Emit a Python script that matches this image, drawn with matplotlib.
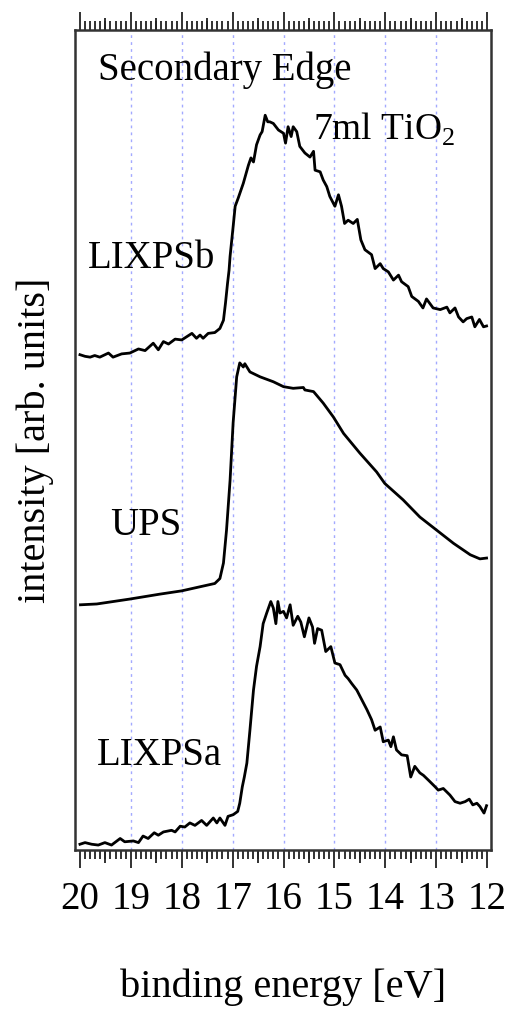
import numpy as np
import matplotlib
matplotlib.use("Agg")
import matplotlib.pyplot as plt
from matplotlib.ticker import MultipleLocator

plt.rcParams['font.family'] = ['Liberation Serif', 'DejaVu Serif']
plt.rcParams['mathtext.fontset'] = 'custom'
plt.rcParams['mathtext.rm'] = 'Liberation Serif'

# LIXPS (b) spectrum: binding energy [eV] vs. intensity [arb. units]
e_lixps_b = [20.00, 19.90, 19.80, 19.71, 19.61, 19.44, 19.35, 19.18, 19.02, 18.85,
             18.72, 18.56, 18.46, 18.36, 18.26, 18.13, 18.00, 17.90, 17.80, 17.71,
             17.64, 17.58, 17.48, 17.35, 17.25, 17.18, 17.14, 17.10, 17.07, 17.05,
             16.99, 16.95, 16.89, 16.79, 16.69, 16.64, 16.59, 16.53, 16.46, 16.42,
             16.36, 16.31, 16.27, 16.20, 16.10, 16.00, 15.96, 15.91, 15.85, 15.81,
             15.74, 15.68, 15.58, 15.48, 15.41, 15.38, 15.28, 15.22, 15.15, 15.09,
             14.99, 14.92, 14.86, 14.80, 14.73, 14.63, 14.55, 14.48, 14.40, 14.27,
             14.20, 14.10, 14.04, 13.94, 13.84, 13.74, 13.68, 13.55, 13.48, 13.35,
             13.26, 13.19, 13.06, 12.92, 12.79, 12.73, 12.63, 12.56, 12.47, 12.40,
             12.30, 12.24, 12.15, 12.07, 12.01]
i_lixps_b = [60.4, 60.2, 60.1, 60.3, 60.1, 60.6, 60.1, 60.5, 60.6, 61.1,
             60.9, 61.8, 61.0, 62.0, 61.7, 62.3, 62.2, 62.6, 63.0, 62.4,
             62.8, 62.4, 63.0, 63.1, 63.6, 64.6, 66.7, 69.1, 70.7, 72.4,
             76.0, 78.5, 79.5, 81.3, 83.5, 84.4, 83.9, 86.0, 87.2, 87.6,
             89.6, 88.8, 88.8, 88.6, 87.8, 87.4, 86.2, 88.2, 87.0, 88.2,
             87.6, 85.8, 85.0, 84.5, 85.2, 82.9, 82.7, 81.7, 80.9, 79.7,
             78.5, 79.9, 78.5, 76.4, 76.8, 76.4, 76.9, 74.4, 73.2, 72.6,
             70.9, 71.5, 70.9, 70.5, 69.5, 70.1, 69.3, 68.7, 67.5, 66.9,
             66.1, 67.2, 66.1, 65.9, 66.2, 65.5, 66.1, 65.0, 64.4, 64.8,
             65.0, 63.8, 64.7, 63.8, 63.9]

# UPS spectrum
e_ups = [19.99, 19.67, 19.02, 18.43, 18.00, 17.64, 17.35, 17.25, 17.18, 17.12,
         17.05, 16.99, 16.92, 16.86, 16.79, 16.76, 16.66, 16.46, 16.20, 16.00,
         15.81, 15.61, 15.58, 15.41, 15.22, 15.02, 14.82, 14.50, 14.17, 14.01,
         13.65, 13.32, 12.99, 12.66, 12.33, 12.14, 12.01]
i_ups = [29.9, 30.0, 30.6, 31.2, 31.6, 32.1, 32.5, 33.1, 35.0, 39.0,
         45.1, 52.1, 57.7, 59.4, 58.9, 59.3, 58.3, 57.7, 57.1, 56.5,
         56.3, 56.4, 56.1, 55.9, 54.5, 52.8, 50.8, 48.4, 46.1, 44.7,
         42.7, 40.6, 39.0, 37.4, 36.0, 35.5, 35.6]

# LIXPS (a) spectrum
e_lixps_a = [20.00, 19.90, 19.77, 19.64, 19.51, 19.38, 19.21, 19.12, 18.95, 18.85,
             18.76, 18.66, 18.54, 18.46, 18.36, 18.20, 18.13, 18.03, 17.94, 17.84,
             17.74, 17.61, 17.51, 17.38, 17.31, 17.25, 17.15, 17.09, 16.99, 16.90,
             16.86, 16.81, 16.77, 16.72, 16.66, 16.59, 16.53, 16.46, 16.40, 16.33,
             16.25, 16.20, 16.15, 16.11, 16.07, 16.00, 15.94, 15.87, 15.81, 15.72,
             15.66, 15.59, 15.50, 15.43, 15.39, 15.33, 15.25, 15.17, 15.07, 14.99,
             14.89, 14.79, 14.73, 14.66, 14.56, 14.46, 14.36, 14.27, 14.20, 14.10,
             14.04, 13.94, 13.89, 13.84, 13.78, 13.68, 13.57, 13.50, 13.42, 13.32,
             13.25, 13.15, 13.02, 12.96, 12.86, 12.73, 12.63, 12.53, 12.43, 12.35,
             12.28, 12.20, 12.14, 12.06, 12.01]
i_lixps_a = [0.7, 0.9, 0.7, 0.6, 0.9, 0.6, 1.4, 1.0, 1.1, 0.9,
             1.7, 1.4, 2.1, 1.8, 2.2, 2.4, 2.2, 2.9, 2.8, 3.3,
             3.0, 3.6, 3.0, 3.9, 3.3, 3.9, 3.0, 4.1, 4.3, 4.7,
             5.7, 7.7, 8.9, 10.6, 14.6, 19.5, 22.4, 24.8, 27.6, 28.9,
             30.3, 29.5, 27.6, 30.3, 28.9, 29.1, 28.3, 29.9, 27.4, 28.5,
             27.8, 26.0, 28.3, 27.2, 25.2, 27.0, 26.8, 24.2, 24.8, 22.8,
             22.6, 21.3, 20.9, 20.3, 19.5, 18.3, 17.1, 15.9, 14.6, 15.0,
             13.2, 13.4, 12.6, 13.8, 12.2, 11.6, 11.5, 8.9, 10.2, 9.4,
             9.1, 8.5, 7.7, 7.3, 7.5, 6.7, 5.9, 5.7, 5.9, 6.2,
             5.5, 5.7, 5.3, 4.5, 5.4]

grid_energies = [19, 18, 17, 16, 15, 14, 13]
half_ticks = [19.5, 18.5, 17.5, 16.5, 15.5, 14.5, 13.5, 12.5]

fig = plt.figure(figsize=(5.1, 10.09), dpi=100)
ax = fig.add_axes([0.147, 0.1576, 0.816, 0.8127])

ax.vlines(grid_energies, 0, 100, colors='#a3a9ff', linestyles=(0, (2, 3)), linewidth=1.0, zorder=0)

for e, i in [(e_lixps_b, i_lixps_b), (e_ups, i_ups), (e_lixps_a, i_lixps_a)]:
    ax.plot(e, i, color='black', linewidth=2.0, solid_joinstyle='round')

ax.set_xlim(20.098, 11.92)
ax.set_ylim(0, 100)
ax.set_yticks([])

ax.set_xticks(np.arange(12, 21, 1))
ax.xaxis.set_minor_locator(MultipleLocator(0.1))
ax.tick_params(axis='x', which='both', direction='out', top=True, bottom=True,
               labeltop=False, width=1.3, color='#222222')
ax.tick_params(axis='x', which='major', length=13, labelsize=28, pad=9)
ax.tick_params(axis='x', which='minor', length=6.5)

# medium ticks at the half-eV positions, top and bottom
for side in ['bottom', 'top']:
    sec = ax.secondary_xaxis(side)
    sec.set_xticks(half_ticks)
    sec.tick_params(direction='out', length=9, width=1.3, color='#222222',
                    labelbottom=False, labeltop=False)
    for sp in sec.spines.values():
        sp.set_visible(False)

for sp in ax.spines.values():
    sp.set_linewidth(1.8)
    sp.set_color('#333333')

ax.set_xlabel('binding energy [eV]', fontsize=29)
ax.xaxis.set_label_coords(0.5, -0.145)
ax.set_ylabel('intensity [arb. units]', fontsize=29)
ax.yaxis.set_label_coords(-0.05, 0.5)

ax.text(19.65, 93.9, 'Secondary Edge', fontsize=28, va='baseline')
ax.text(15.42, 86.6, '7ml TiO$_{2}$', fontsize=27, va='baseline')
ax.text(19.84, 71.0, 'LIXPSb', fontsize=28, va='baseline')
ax.text(19.41, 38.4, 'UPS', fontsize=28, va='baseline')
ax.text(19.67, 10.4, 'LIXPSa', fontsize=28, va='baseline')

fig.savefig('out.png', dpi=100)
